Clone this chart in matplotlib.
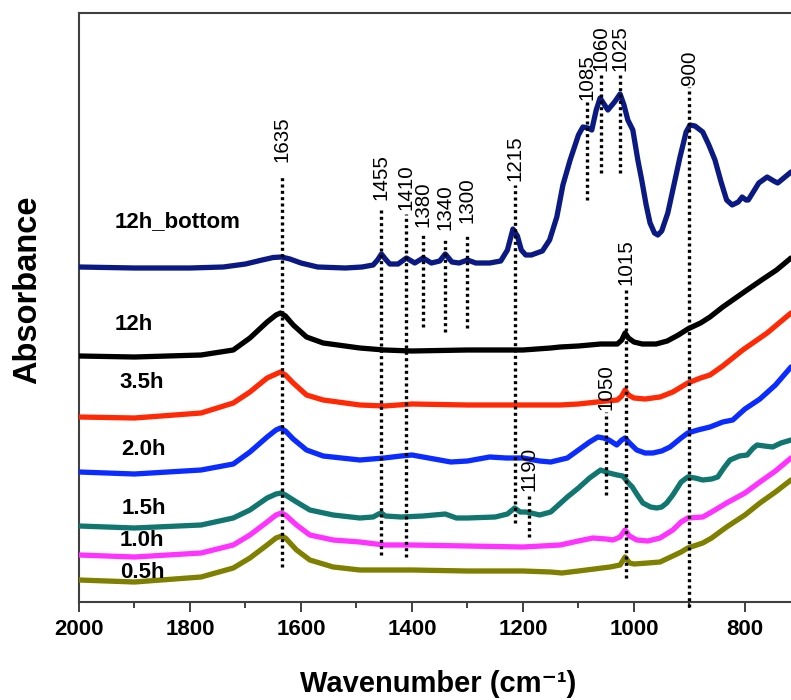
import matplotlib
matplotlib.use("Agg")
import matplotlib.pyplot as plt
from matplotlib.ticker import MultipleLocator

plt.rcParams['font.family'] = ['Liberation Sans', 'DejaVu Sans']

# FTIR spectra, stacked with offsets (absorbance, a.u.)
wn_12h_bottom = [2000, 1900, 1800, 1740, 1700, 1670, 1650, 1635, 1620, 1600, 1570, 1520, 1490,
                 1470, 1462, 1455, 1448, 1440, 1425, 1410, 1395, 1380, 1365, 1350, 1340, 1328,
                 1315, 1300, 1285, 1260, 1240, 1228, 1218, 1210, 1203, 1195, 1185, 1165, 1152,
                 1139, 1128, 1115, 1100, 1092, 1083, 1076, 1068, 1061, 1054, 1047, 1035, 1025,
                 1018, 1011, 1002, 993, 986, 978, 971, 963, 957, 950, 939, 928, 917, 906, 899,
                 890, 876, 865, 854, 843, 833, 823, 812, 805, 798, 794, 785, 775, 760, 748, 741,
                 730, 717]
ab_12h_bottom = [3.35, 3.34, 3.34, 3.35, 3.38, 3.42, 3.445, 3.45, 3.43, 3.39, 3.35, 3.34, 3.35,
                 3.37, 3.42, 3.48, 3.43, 3.38, 3.38, 3.44, 3.39, 3.44, 3.39, 3.41, 3.48, 3.40,
                 3.39, 3.42, 3.39, 3.39, 3.41, 3.52, 3.73, 3.66, 3.52, 3.47, 3.47, 3.51, 3.62,
                 3.85, 4.17, 4.42, 4.67, 4.75, 4.74, 4.72, 4.92, 5.04, 4.98, 4.92, 5.00, 5.08,
                 4.97, 4.82, 4.72, 4.42, 4.22, 3.97, 3.79, 3.69, 3.67, 3.71, 3.89, 4.17, 4.45,
                 4.70, 4.77, 4.76, 4.70, 4.57, 4.42, 4.20, 4.02, 3.97, 4.00, 4.05, 4.02, 4.02,
                 4.10, 4.19, 4.25, 4.21, 4.19, 4.24, 4.30]

wn_12h = [2000, 1900, 1780, 1722, 1692, 1661, 1645, 1637, 1628, 1614, 1590, 1560, 1494, 1450,
          1400, 1300, 1200, 1150, 1133, 1100, 1060, 1030, 1022, 1016, 1010, 1000, 985, 960,
          940, 920, 903, 880, 863, 840, 804, 770, 743, 717]
ab_12h = [2.46, 2.45, 2.47, 2.52, 2.64, 2.80, 2.87, 2.89, 2.86, 2.77, 2.65, 2.59, 2.54, 2.52,
          2.51, 2.52, 2.52, 2.54, 2.55, 2.56, 2.58, 2.58, 2.62, 2.69, 2.64, 2.60, 2.58, 2.58,
          2.61, 2.67, 2.73, 2.79, 2.85, 2.95, 3.09, 3.22, 3.32, 3.44]

wn_35h = [2000, 1900, 1780, 1722, 1692, 1661, 1645, 1637, 1628, 1614, 1590, 1560, 1494, 1450,
          1400, 1300, 1200, 1133, 1100, 1050, 1030, 1022, 1016, 1010, 1000, 980, 953, 930,
          915, 903, 880, 863, 840, 804, 760, 717]
ab_35h = [1.85, 1.84, 1.89, 1.99, 2.10, 2.24, 2.28, 2.30, 2.27, 2.19, 2.07, 2.02, 1.97, 1.96,
          1.98, 1.97, 1.97, 1.97, 1.98, 2.01, 2.02, 2.06, 2.12, 2.07, 2.04, 2.03, 2.05, 2.10,
          2.15, 2.19, 2.24, 2.27, 2.36, 2.52, 2.69, 2.89]

wn_20h = [2000, 1900, 1780, 1722, 1692, 1661, 1645, 1637, 1628, 1614, 1590, 1560, 1494, 1450,
          1420, 1400, 1370, 1330, 1300, 1260, 1230, 1200, 1170, 1150, 1120, 1100, 1080, 1065,
          1055, 1045, 1031, 1022, 1016, 1008, 995, 980, 966, 950, 935, 915, 903, 885, 863,
          840, 822, 800, 773, 745, 717]
ab_20h = [1.30, 1.28, 1.32, 1.38, 1.50, 1.65, 1.72, 1.74, 1.71, 1.63, 1.52, 1.46, 1.42, 1.44,
          1.46, 1.47, 1.44, 1.40, 1.41, 1.45, 1.44, 1.44, 1.41, 1.40, 1.44, 1.52, 1.60, 1.65,
          1.64, 1.62, 1.57, 1.62, 1.64, 1.59, 1.52, 1.49, 1.49, 1.51, 1.55, 1.64, 1.69, 1.72,
          1.75, 1.80, 1.82, 1.93, 2.03, 2.17, 2.35]

wn_15h = [2000, 1900, 1780, 1722, 1692, 1661, 1645, 1635, 1628, 1608, 1584, 1542, 1494, 1470,
          1460, 1455, 1448, 1420, 1380, 1340, 1320, 1300, 1250, 1228, 1215, 1205, 1195, 1185,
          1170, 1150, 1140, 1120, 1100, 1080, 1060, 1045, 1030, 1020, 1010, 1003, 995, 984,
          970, 959, 950, 941, 930, 915, 903, 890, 876, 860, 849, 838, 827, 810, 796, 785, 778,
          765, 750, 735, 717]
ab_15h = [0.76, 0.74, 0.77, 0.84, 0.92, 1.04, 1.08, 1.09, 1.07, 1.00, 0.92, 0.87, 0.84, 0.85,
          0.88, 0.89, 0.86, 0.85, 0.86, 0.88, 0.84, 0.84, 0.85, 0.88, 0.94, 0.90, 0.90, 0.89,
          0.87, 0.90, 0.95, 1.05, 1.14, 1.24, 1.32, 1.29, 1.27, 1.26, 1.19, 1.15, 1.08, 0.99,
          0.95, 0.94, 0.95, 0.99, 1.07, 1.20, 1.25, 1.24, 1.22, 1.23, 1.25, 1.34, 1.42, 1.46,
          1.47, 1.54, 1.57, 1.56, 1.55, 1.59, 1.62]

wn_10h = [2000, 1900, 1780, 1722, 1692, 1661, 1645, 1635, 1628, 1608, 1584, 1542, 1494, 1450,
          1400, 1300, 1200, 1133, 1100, 1074, 1050, 1038, 1025, 1016, 1008, 995, 975, 953,
          930, 915, 903, 876, 860, 833, 800, 773, 745, 717]
ab_10h = [0.47, 0.45, 0.49, 0.57, 0.67, 0.80, 0.87, 0.89, 0.87, 0.77, 0.67, 0.62, 0.60, 0.57,
          0.57, 0.56, 0.55, 0.57, 0.61, 0.64, 0.63, 0.62, 0.65, 0.72, 0.66, 0.62, 0.61, 0.64,
          0.72, 0.80, 0.84, 0.85, 0.90, 0.99, 1.09, 1.20, 1.31, 1.44]

wn_05h = [2000, 1900, 1780, 1722, 1692, 1661, 1645, 1635, 1628, 1608, 1584, 1542, 1494, 1450,
          1400, 1300, 1200, 1150, 1130, 1100, 1043, 1025, 1016, 1008, 1000, 975, 953, 930,
          915, 903, 876, 860, 833, 800, 773, 745, 717]
ab_05h = [0.22, 0.20, 0.25, 0.34, 0.44, 0.57, 0.64, 0.66, 0.64, 0.52, 0.42, 0.35, 0.32, 0.32,
          0.32, 0.31, 0.31, 0.30, 0.29, 0.31, 0.35, 0.37, 0.45, 0.39, 0.38, 0.39, 0.40, 0.46,
          0.50, 0.54, 0.59, 0.64, 0.75, 0.87, 0.99, 1.10, 1.22]

spectra = [
    ("12h_bottom", wn_12h_bottom, ab_12h_bottom, "#0b1a82", (1935, 3.80)),
    ("12h", wn_12h, ab_12h, "#000000", (1935, 2.77)),
    ("3.5h", wn_35h, ab_35h, "#ff2a05", (1928, 2.19)),
    ("2.0h", wn_20h, ab_20h, "#0a2cff", (1923, 1.52)),
    ("1.5h", wn_15h, ab_15h, "#11766f", (1924, 0.94)),
    ("1.0h", wn_10h, ab_10h, "#ff33ff", (1926, 0.62)),
    ("0.5h", wn_05h, ab_05h, "#7f7f00", (1926, 0.30)),
]

# band assignments: wavenumber, line bottom, line top, label base
band_wn = [1635, 1455, 1410, 1380, 1340, 1300, 1215, 1190, 1085, 1060, 1025, 900, 1015, 1050]
band_lo = [0.35, 0.47, 0.45, 2.75, 2.70, 2.74, 0.79, 0.65, 4.02, 4.29, 4.29, -0.05, 0.24, 1.07]
band_hi = [4.27, 3.94, 3.88, 3.69, 3.62, 3.67, 4.17, 1.09, 5.00, 5.30, 5.30, 5.15, 3.15, 1.90]
band_lab = [4.40, 4.02, 3.92, 3.75, 3.72, 3.79, 4.21, 1.11, 5.02, 5.31, 5.31, 5.17, 3.17, 1.92]

fig = plt.figure(figsize=(7.91, 7.0), dpi=100)
ax = fig.add_axes([79 / 791, 98 / 700, 712 / 791, 589 / 700])

for name, wn, ab, col, (tx, ty) in spectra:
    ax.plot(wn, ab, color=col, lw=3.8, solid_joinstyle='round', solid_capstyle='round', zorder=3)
    ax.text(tx, ty, name, fontsize=16, fontweight='bold', ha='left', va='center', zorder=5)

for w, lo, hi, lab in zip(band_wn, band_lo, band_hi, band_lab):
    ax.plot([w, w], [lo, hi], color='black', lw=2.4, dashes=(0.9, 1.0), zorder=4, clip_on=False)
    ax.text(w, lab, str(w), rotation=90, fontsize=14.8, ha='center', va='bottom', zorder=5)

ax.set_xlim(2000, 717)
ax.set_ylim(0, 5.89)
ax.set_yticks([])
ax.xaxis.set_major_locator(MultipleLocator(200))
ax.xaxis.set_minor_locator(MultipleLocator(100))
ax.tick_params(axis='x', which='major', direction='out', length=7, width=1.4,
               labelsize=16, pad=5, color='#404040')
ax.tick_params(axis='x', which='minor', direction='out', length=4, width=1.4, color='#404040')
for lbl in ax.get_xticklabels():
    lbl.set_fontweight('bold')

for side in ['top', 'left', 'bottom']:
    ax.spines[side].set_color('#404040')
    ax.spines[side].set_linewidth(1.5)
ax.spines['right'].set_visible(False)

ax.set_xlabel("Wavenumber (cm\u207b\u00b9)", fontsize=21, fontweight='bold')
ax.xaxis.set_label_coords(0.504, -0.115)
ax.set_ylabel("Absorbance", fontsize=23.5, fontweight='bold')
ax.yaxis.set_label_coords(-0.05, 0.53)

fig.savefig("out.png", dpi=100)
